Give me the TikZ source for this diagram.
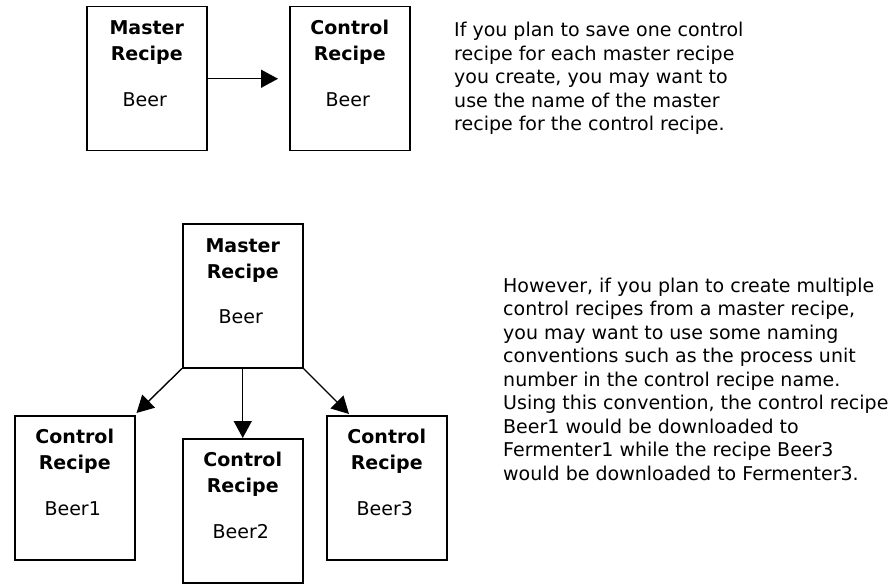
\documentclass[tikz,border=0pt]{standalone}
\usepackage{fontspec}
\setmainfont{DejaVu Sans}
\usetikzlibrary{arrows.meta,calc}
\tikzset{
  recbox/.style={draw, line width=1.5pt, minimum width=120pt, minimum height=144pt, inner sep=0pt, anchor=north west},
  boldtxt/.style={anchor=base, inner sep=0pt, font=\fontsize{19}{23}\selectfont\bfseries},
  plaintxt/.style={anchor=base, inner sep=0pt, font=\fontsize{19}{23}\selectfont},
  para/.style={anchor=base west, inner sep=0pt, align=left, font=\fontsize{19}{23.5}\selectfont},
  conn/.style={line width=1.4pt, -{Triangle[length=17pt,width=18pt]}}
}
\begin{document}
\begin{tikzpicture}[x=1pt,y=-1pt]
\useasboundingbox (0,0) rectangle (891,588);
% top row
\node[recbox] (m1) at (86,6) {};
\node[recbox] (c0) at (289,6) {};
\node[boldtxt] (m1a) at ($(m1.north)+(0,29)$) {Master};
\node[boldtxt] (m1b) at ($(m1.north)+(0,55)$) {Recipe};
\node[plaintxt] (m1c) at ($(m1.north)+(-2,101)$) {Beer};
\node[boldtxt] (c0a) at ($(c0.north)+(0,29)$) {Control};
\node[boldtxt] (c0b) at ($(c0.north)+(0,55)$) {Recipe};
\node[plaintxt] (c0c) at ($(c0.north)+(-2,101)$) {Beer};
\coordinate (c0tip) at ($(c0.west)+(-11,0)$);
\draw[conn] (m1.east) -- (c0tip);
\node[para] (p1) at (454,131) {If you plan to save one control\\recipe for each master recipe\\you create, you may want to\\use the name of the master\\recipe for the control recipe.};
% bottom
\node[recbox] (m2) at (182,223) {};
\node[recbox] (c1) at (14,415) {};
\node[recbox] (c2) at (182,438) {};
\node[recbox] (c3) at (326,415) {};
\node[boldtxt] (m2a) at ($(m2.north)+(0,29)$) {Master};
\node[boldtxt] (m2b) at ($(m2.north)+(0,55)$) {Recipe};
\node[plaintxt] (m2c) at ($(m2.north)+(-2,100)$) {Beer};
\node[boldtxt] (c1a) at ($(c1.north)+(0,28)$) {Control};
\node[boldtxt] (c1b) at ($(c1.north)+(0,54)$) {Recipe};
\node[plaintxt] (c1c) at ($(c1.north)+(-2,100)$) {Beer1};
\node[boldtxt] (c2a) at ($(c2.north)+(0,28)$) {Control};
\node[boldtxt] (c2b) at ($(c2.north)+(0,54)$) {Recipe};
\node[plaintxt] (c2c) at ($(c2.north)+(-2,100)$) {Beer2};
\node[boldtxt] (c3a) at ($(c3.north)+(0,28)$) {Control};
\node[boldtxt] (c3b) at ($(c3.north)+(0,54)$) {Recipe};
\node[plaintxt] (c3c) at ($(c3.north)+(-2,100)$) {Beer3};
\coordinate (c1tip) at ($(c1.north east)+(1,-2)$);
\coordinate (c3tip) at ($(c3.north west)+(23,-1)$);
\draw[conn] (m2.south west) -- (c1tip);
\draw[conn] (m2.south) -- (c2.north);
\draw[conn] (m2.south east) -- (c3tip);
\node[para] (p2) at (503,480) {However, if you plan to create multiple\\control recipes from a master recipe,\\you may want to use some naming\\conventions such as the process unit\\number in the control recipe name.\\Using this convention, the control recipe\\Beer1 would be downloaded to\\Fermenter1 while the recipe Beer3\\would be downloaded to Fermenter3.};
\end{tikzpicture}
\end{document}
